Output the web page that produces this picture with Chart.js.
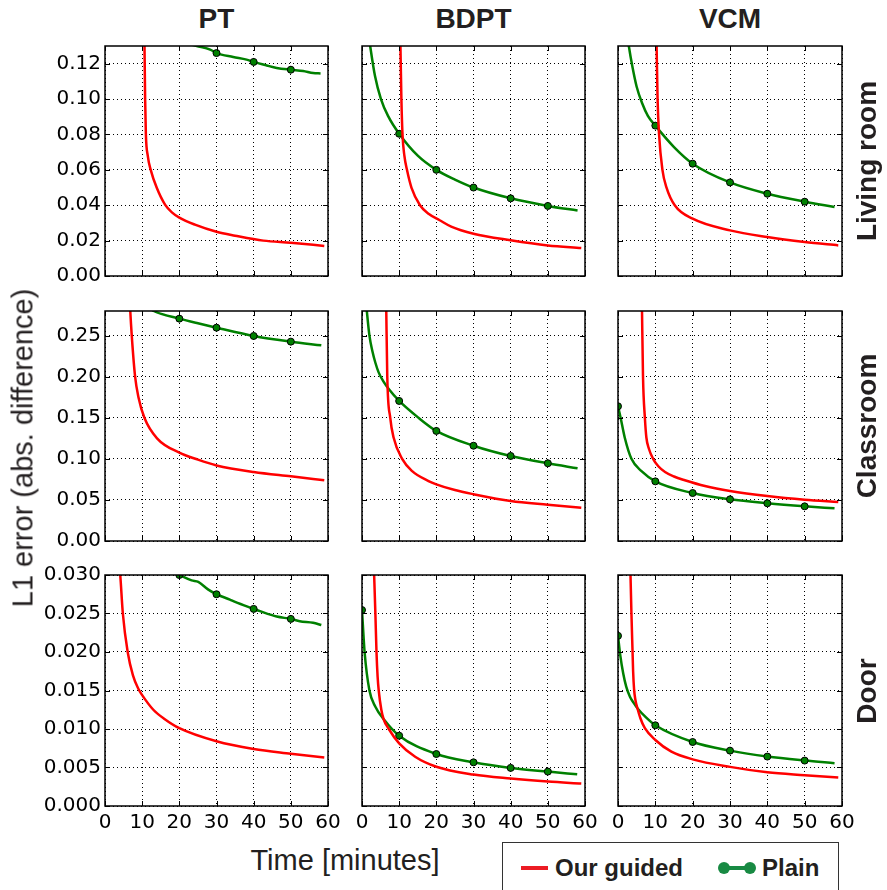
<!DOCTYPE html>
<html>
<head>
<meta charset="utf-8">
<script src="https://cdn.jsdelivr.net/npm/chart.js@4.4.1/dist/chart.umd.min.js"></script>
<style>
  body { margin: 0; background: #fff; width: 887px; height: 890px; overflow: hidden; position: relative; }
  canvas { position: absolute; }
  .txt { position: absolute; white-space: nowrap; color: #231f20; font-family: "Liberation Sans", Arial, sans-serif; }
  .bold { font-weight: bold; }
</style>
</head>
<body>
<script>
// Time in minutes, L1 error; [t, value] pairs
const livingPtGuided = [[10.6,0.135],[10.8,0.10],[11.0,0.08],[11.5,0.068],[12.3,0.06],[13.9,0.05],[16.2,0.0402],[18,0.036],[20,0.033],[24.2,0.029],[30,0.025],[35,0.0228],[42.6,0.02],[50,0.0188],[59,0.017]];
const livingPtPlain = [[22,0.1315],[24.7,0.13],[28.3,0.128],[30,0.126],[34.5,0.1238],[38.1,0.1223],[40,0.121],[43.5,0.119],[46.2,0.1176],[50,0.1166],[53.3,0.1159],[56,0.1147],[58,0.1145]];
const livingBdptGuided = [[10.3,0.135],[10.6,0.10],[10.9,0.08],[11.4,0.068],[12.1,0.06],[13.3,0.05],[15.6,0.04],[18,0.035],[20.9,0.0315],[24,0.0279],[30,0.0239],[40,0.0202],[50,0.0173],[59,0.0158]];
const livingBdptPlain = [[1.8,0.136],[2.2,0.13],[3.5,0.113],[5.1,0.10],[7,0.0905],[10,0.0804],[15,0.068],[20,0.060],[25,0.0545],[30,0.050],[40,0.0439],[50,0.0396],[58,0.037]];
const livingVcmGuided = [[10.3,0.135],[10.6,0.10],[11.0,0.08],[11.9,0.06],[13,0.05],[15.2,0.04],[20,0.0324],[30,0.0258],[40,0.022],[50,0.0192],[59,0.0173]];
const livingVcmPlain = [[2.5,0.136],[2.9,0.13],[3.8,0.119],[5,0.107],[6.5,0.0975],[8,0.0905],[10,0.085],[15,0.0729],[20,0.0635],[30,0.0529],[40,0.0465],[50,0.042],[58,0.039]];

const classPtGuided = [[6.7,0.29],[6.8,0.28],[7.2,0.25],[8.1,0.20],[9.0,0.175],[10.6,0.15],[14,0.125],[20,0.1075],[25,0.099],[30,0.092],[40,0.084],[50,0.0787],[59,0.074]];
const classPtPlain = [[12,0.2835],[13.1,0.28],[20,0.2707],[25,0.265],[30,0.2597],[40,0.2496],[50,0.2427],[58.2,0.2382]];
const classBdptGuided = [[6.5,0.29],[6.8,0.20],[7.6,0.15],[8.5,0.126],[10.8,0.10],[13.5,0.085],[17.9,0.073],[20,0.069],[25,0.062],[30,0.057],[40,0.0487],[50,0.0442],[59,0.0406]];
const classBdptPlain = [[1.1,0.29],[1.3,0.28],[2.0,0.25],[2.8,0.231],[3.6,0.217],[4.5,0.205],[5.8,0.194],[7.2,0.185],[10,0.1705],[15.2,0.15],[20,0.134],[30,0.116],[40,0.1035],[50,0.0946],[58,0.0885]];
const classVcmGuided = [[6.4,0.29],[6.7,0.20],[7.2,0.15],[7.6,0.126],[8.3,0.112],[9.4,0.10],[10.8,0.091],[12.6,0.084],[15,0.0785],[17.9,0.074],[23.3,0.067],[30,0.061],[40,0.0548],[50,0.0503],[59,0.0475]];
const classVcmPlain = [[0,0.164],[0.7,0.15],[1.8,0.126],[3.6,0.10],[6.3,0.085],[10,0.0726],[20,0.0584],[30,0.0507],[40,0.0459],[50,0.0422],[58,0.0398]];

const doorPtGuided = [[3.9,0.031],[4.1,0.030],[4.8,0.025],[6.1,0.02],[7.5,0.017],[9.0,0.0152],[10,0.0144],[13,0.0125],[16,0.0113],[20,0.0101],[30,0.0084],[40,0.0074],[50,0.0068],[59,0.0063]];
const doorPtPlain = [[20,0.030],[23.3,0.0293],[25.1,0.0291],[27.8,0.0281],[30,0.0275],[33.6,0.0268],[35,0.0265],[40,0.0256],[41.7,0.0253],[46.2,0.0246],[50,0.0243],[52.4,0.024],[56,0.0238],[58.2,0.0235]];
const doorBdptGuided = [[3.2,0.031],[3.6,0.025],[3.9,0.02],[4.2,0.0168],[4.5,0.015],[5.2,0.0125],[5.8,0.0113],[7.2,0.01],[10,0.00814],[14.3,0.0064],[20,0.0051],[30,0.00408],[40,0.00356],[50,0.00317],[59,0.00291]];
const doorBdptPlain = [[0,0.02545],[0.7,0.02],[2.0,0.015],[3.6,0.0129],[5.8,0.0113],[10,0.00913],[20,0.00675],[30,0.00567],[40,0.00495],[50,0.00447],[57.9,0.00412]];
const doorVcmGuided = [[3.3,0.031],[3.6,0.025],[3.9,0.02],[4.05,0.0175],[4.3,0.0152],[4.65,0.0138],[5.2,0.0127],[6,0.0114],[7.2,0.0101],[10,0.00857],[14.3,0.00706],[20,0.00606],[30,0.00508],[40,0.00438],[50,0.004],[59,0.00369]];
const doorVcmPlain = [[0,0.0221],[0.6,0.0196],[1.4,0.0172],[2.2,0.0155],[3.2,0.0142],[4.2,0.0134],[5.2,0.0127],[7.5,0.0115],[10,0.01048],[20,0.00831],[30,0.00719],[40,0.00642],[50,0.0059],[58,0.00556]];

const methods = ['PT', 'BDPT', 'VCM'];
const scenes = ['Living room', 'Classroom', 'Door'];
const yMax = [0.13, 0.28, 0.03];
const yTicks = [
  [0, 0.02, 0.04, 0.06, 0.08, 0.10, 0.12],
  [0, 0.05, 0.10, 0.15, 0.20, 0.25],
  [0, 0.005, 0.010, 0.015, 0.020, 0.025, 0.030]
];
const yDecimals = [2, 2, 3];
const xTicks = [0, 10, 20, 30, 40, 50, 60];

const panelData = [
  [[livingPtGuided, livingPtPlain], [livingBdptGuided, livingBdptPlain], [livingVcmGuided, livingVcmPlain]],
  [[classPtGuided, classPtPlain], [classBdptGuided, classBdptPlain], [classVcmGuided, classVcmPlain]],
  [[doorPtGuided, doorPtPlain], [doorBdptGuided, doorBdptPlain], [doorVcmGuided, doorVcmPlain]]
];

// layout of the plot areas (px)
const colLeft = [105, 362, 618];
const colWidth = [223, 223, 224];
const rowTop = [46, 311, 575];
const rowHeight = [230, 230, 231];

// frame + inward tick marks, like the old matplotlib style
const framePlugin = {
  id: 'frame',
  afterDraw(chart) {
    const { ctx, chartArea: a, scales } = chart;
    ctx.save();
    ctx.strokeStyle = '#000';
    ctx.lineWidth = 1;
    ctx.beginPath();
    scales.x.ticks.forEach(t => {
      const px = Math.round(scales.x.getPixelForValue(t.value)) + 0.5;
      ctx.moveTo(px, a.bottom); ctx.lineTo(px, a.bottom - 5);
      ctx.moveTo(px, a.top); ctx.lineTo(px, a.top + 5);
    });
    scales.y.ticks.forEach(t => {
      const py = Math.round(scales.y.getPixelForValue(t.value)) + 0.5;
      ctx.moveTo(a.left, py); ctx.lineTo(a.left + 5, py);
      ctx.moveTo(a.right, py); ctx.lineTo(a.right - 5, py);
    });
    ctx.stroke();
    ctx.lineWidth = 1.5;
    ctx.strokeRect(a.left, a.top, a.right - a.left, a.bottom - a.top);
    ctx.restore();
  }
};

function toPoints(pairs) {
  return pairs.map(p => ({ x: p[0], y: p[1] }));
}

function makePanel(r, c) {
  const mL = c === 0 ? 80 : 10, mR = 16, mT = 10, mB = r === 2 ? 36 : 10;
  const canvas = document.createElement('canvas');
  canvas.width = mL + colWidth[c] + mR;
  canvas.height = mT + rowHeight[r] + mB;
  canvas.style.left = (colLeft[c] - mL) + 'px';
  canvas.style.top = (rowTop[r] - mT) + 'px';
  document.body.appendChild(canvas);

  const [guided, plain] = panelData[r][c];

  new Chart(canvas, {
    type: 'line',
    data: {
      datasets: [
        {
          label: 'Our guided',
          data: toPoints(guided),
          borderColor: '#ff0000',
          borderWidth: 2.5,
          pointRadius: 0,
          cubicInterpolationMode: 'monotone',
          clip: 0
        },
        {
          label: 'Plain',
          data: toPoints(plain),
          borderColor: '#008000',
          borderWidth: 2.5,
          pointRadius: ctx => (ctx.raw && ctx.raw.x % 10 === 0 ? 3.5 : 0),
          pointBackgroundColor: '#008000',
          pointBorderColor: '#000',
          pointBorderWidth: 1,
          cubicInterpolationMode: 'monotone',
          clip: 0
        }
      ]
    },
    options: {
      responsive: false,
      animation: false,
      events: [],
      layout: { padding: { left: 0, right: mR, top: mT, bottom: 0 } },
      plugins: { legend: { display: false }, tooltip: { enabled: false } },
      scales: {
        x: {
          type: 'linear',
          min: 0,
          max: 60,
          afterBuildTicks: s => { s.ticks = xTicks.map(v => ({ value: v })); },
          afterFit: s => {
            s.height = mB;
            s.paddingLeft = s.paddingRight = s.paddingTop = s.paddingBottom = 0;
          },
          grid: { color: '#000', lineWidth: 1, drawTicks: false },
          border: { display: false, dash: [1, 3] },
          ticks: {
            display: r === 2,
            autoSkip: false,
            maxRotation: 0,
            padding: 5,
            color: '#000',
            font: { family: 'DejaVu Sans', size: 20 }
          }
        },
        y: {
          min: 0,
          max: yMax[r],
          afterBuildTicks: s => { s.ticks = yTicks[r].map(v => ({ value: v })); },
          afterFit: s => {
            s.width = mL;
            s.paddingLeft = s.paddingRight = s.paddingTop = s.paddingBottom = 0;
          },
          grid: { color: '#000', lineWidth: 1, drawTicks: false },
          border: { display: false, dash: [1, 3] },
          ticks: {
            display: c === 0,
            padding: 4,
            color: '#000',
            font: { family: 'DejaVu Sans', size: 20 },
            callback: v => Number(v).toFixed(yDecimals[r])
          }
        }
      }
    },
    plugins: [framePlugin]
  });
}

function addText(text, x, y, size, bold, rotate) {
  const d = document.createElement('div');
  d.className = 'txt' + (bold ? ' bold' : '');
  d.textContent = text;
  d.style.fontSize = size + 'px';
  d.style.lineHeight = size + 'px';
  d.style.left = x + 'px';
  d.style.top = y + 'px';
  d.style.transform = 'translate(-50%, -50%)' + (rotate ? ' rotate(-90deg)' : '');
  document.body.appendChild(d);
}

for (let r = 0; r < 3; r++) {
  for (let c = 0; c < 3; c++) makePanel(r, c);
}

methods.forEach((m, c) => addText(m, colLeft[c] + colWidth[c] / 2, 19, 28, true, false));
scenes.forEach((s, r) => addText(s, 867, rowTop[r] + rowHeight[r] / 2, 28, true, true));
addText('L1 error (abs. difference)', 23, 448, 29, false, true);
addText('Time [minutes]', 345, 860, 29, false, false);
</script>

<div style="position:absolute;left:502px;top:842px;width:337px;height:60px;border:1px solid #333;box-sizing:border-box;">
  <div style="position:absolute;left:18px;top:23px;width:27px;height:4px;background:#ec1c24;"></div>
  <div class="txt bold" style="left:52px;top:13px;font-size:24px;line-height:24px;">Our guided</div>
  <div style="position:absolute;left:221px;top:23px;width:26px;height:4px;background:#188a43;"></div>
  <div style="position:absolute;left:215px;top:19px;width:12px;height:12px;border-radius:50%;background:#188a43;"></div>
  <div style="position:absolute;left:241px;top:19px;width:12px;height:12px;border-radius:50%;background:#188a43;"></div>
  <div class="txt bold" style="left:259px;top:13px;font-size:24px;line-height:24px;">Plain</div>
</div>
</body>
</html>
